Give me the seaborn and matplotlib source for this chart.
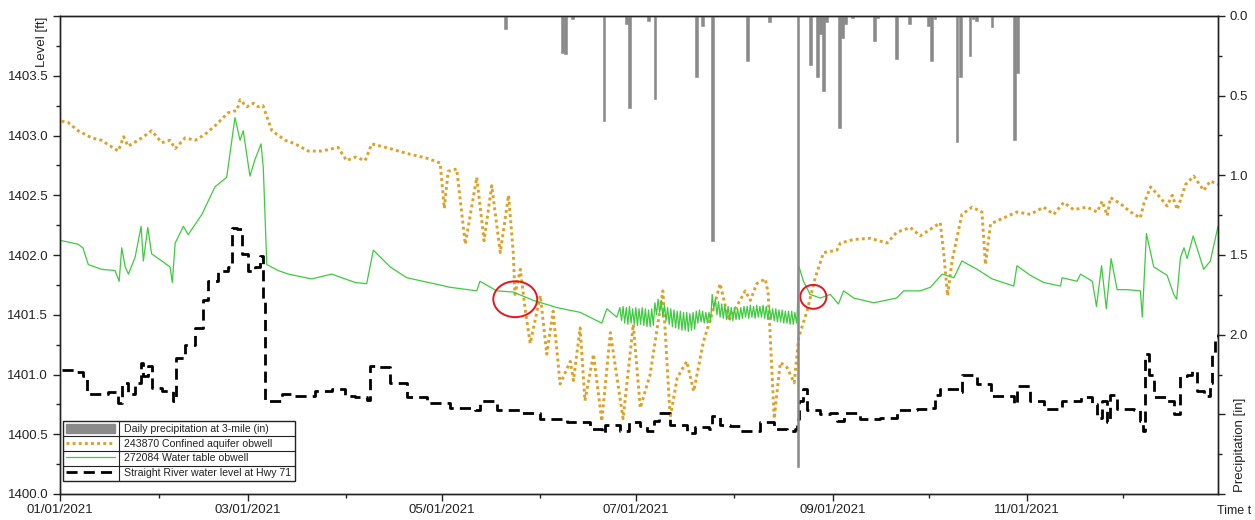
import numpy as np
import pandas as pd
import matplotlib
matplotlib.use("Agg")
import matplotlib.pyplot as plt
import matplotlib.dates as mdates
from matplotlib.patches import Patch, Ellipse
from matplotlib.lines import Line2D
from matplotlib.ticker import MultipleLocator, FuncFormatter
import seaborn as sns

# ---------------- data (day of year 2021, 0 = Jan 1) ----------------
conf_days = [0.5, 2.5, 5.7, 10, 13, 18.3, 20, 21.4, 25.7, 28.8, 32, 34.6, 36.2, 39.3, 42.5, 45.6, 48.7,
             52.8, 55.6, 56.6, 58.7, 60.8, 62.3, 63.8, 66.6, 70.8, 73.9, 78, 82.3, 87.4, 90.1, 92.8,
             95.9, 98, 103.8, 109, 115.3, 119.5, 120.8, 122, 124.7, 127.4, 131, 133.3, 135.7, 138.4,
             141, 142.5, 143, 144.7, 146.2, 147.8, 151, 153, 155, 157.2, 160.4, 161.4, 163.5, 165,
             167.7, 170.3, 173, 177, 180.2, 182.4, 185.5, 189.5, 191.8, 194, 197, 199.2, 202.3, 205,
             207.5, 210.2, 215.4, 217, 219, 221.7, 222.6, 224.5, 226.4, 228.5, 230.8, 232.2, 234.8,
             237.4, 240, 244.2, 245.3, 249.5, 254.7, 260, 263, 267.3, 270.4, 276.7, 277.8, 279, 280.4,
             283.5, 286.7, 289.8, 290.9, 292.5, 296.6, 300.8, 305, 309.2, 312.4, 315.5, 318.6, 322.8,
             326, 327.6, 329.2, 330.2, 333.3, 336.5, 339.6, 340.7, 342.8, 344.9, 348, 349.6, 351.2,
             353.8, 356.4, 359.5, 361.6, 364]
conf_level = [1403.12, 1403.11, 1403.04, 1402.98, 1402.96, 1402.87, 1402.99, 1402.91, 1402.98, 1403.04,
              1402.94, 1402.96, 1402.89, 1402.98, 1402.96, 1403.01, 1403.08, 1403.19, 1403.21, 1403.30,
              1403.24, 1403.27, 1403.24, 1403.25, 1403.04, 1402.96, 1402.93, 1402.87, 1402.87, 1402.90,
              1402.79, 1402.82, 1402.79, 1402.93, 1402.89, 1402.85, 1402.81, 1402.77, 1402.39, 1402.70,
              1402.72, 1402.09, 1402.65, 1402.12, 1402.58, 1402.02, 1402.50, 1402.01, 1401.67, 1401.88,
              1401.55, 1401.26, 1401.66, 1401.17, 1401.53, 1400.92, 1401.11, 1400.95, 1401.39, 1400.78,
              1401.17, 1400.61, 1401.35, 1400.63, 1401.42, 1400.72, 1401.00, 1401.70, 1400.64, 1400.97,
              1401.11, 1400.86, 1401.28, 1401.51, 1401.76, 1401.45, 1401.70, 1401.62, 1401.76, 1401.80,
              1401.68, 1400.63, 1401.10, 1401.06, 1400.93, 1401.31, 1401.53, 1401.81, 1402.02, 1402.04,
              1402.10, 1402.13, 1402.14, 1402.10, 1402.19, 1402.23, 1402.16, 1402.27, 1402.01, 1401.66,
              1401.95, 1402.34, 1402.40, 1402.36, 1401.92, 1402.26, 1402.31, 1402.36, 1402.34, 1402.40,
              1402.34, 1402.44, 1402.38, 1402.40, 1402.36, 1402.45, 1402.33, 1402.48, 1402.43, 1402.36,
              1402.31, 1402.43, 1402.57, 1402.51, 1402.41, 1402.50, 1402.38, 1402.59, 1402.66, 1402.54,
              1402.62, 1402.59]

wt_days = [0.5, 5.7, 7.2, 8.9, 13.1, 17.3, 18.6, 19.4, 20.5, 21.5, 23.6, 25.5, 26.2, 27.6, 28.8, 32,
           34.6, 35.3, 36.2, 38.8, 40.3, 44.6, 48.7, 52.4, 55, 56.6, 57.6, 59.7, 61.3, 63.2, 63.9, 65,
           68.6, 71.8, 79.1, 85.4, 88.6, 92.8, 96.4, 98.5, 103.8, 109, 115.8, 122.6, 131, 132, 137.3,
           142.5, 148.8, 156.2, 163.5, 170.3, 171.9, 175,
           231.7, 232.2, 233.7, 235.8, 239, 242.1, 244.7, 246.3, 249.5, 255.8, 263, 265.2, 270.4,
           273.6, 277.3, 281, 283.5, 288.3, 293, 299.8, 300.8, 305, 309.2, 314.5, 315, 319.7, 320.8,
           324.5, 325.8, 327.4, 328.9, 330.4, 332.3, 335.5, 339.6, 340.2, 341.5, 343.8, 348, 350.1,
           351, 352.2, 353.3, 354.3, 356.2, 359.5, 361.6, 364]
wt_level = [1402.12, 1402.09, 1402.06, 1401.92, 1401.88, 1401.87, 1401.78, 1402.06, 1401.90, 1401.84,
            1401.98, 1402.24, 1401.95, 1402.23, 1402.01, 1401.95, 1401.90, 1401.77, 1402.10, 1402.24,
            1402.17, 1402.34, 1402.57, 1402.65, 1403.15, 1402.96, 1403.04, 1402.66, 1402.80, 1402.93,
            1402.73, 1401.92, 1401.87, 1401.84, 1401.80, 1401.84, 1401.81, 1401.77, 1401.76, 1402.04,
            1401.90, 1401.81, 1401.77, 1401.73, 1401.70, 1401.78, 1401.70, 1401.69, 1401.62, 1401.56,
            1401.52, 1401.43, 1401.55, 1401.48,
            1401.48, 1401.91, 1401.78, 1401.67, 1401.64, 1401.67, 1401.59, 1401.70, 1401.64, 1401.60,
            1401.64, 1401.70, 1401.70, 1401.73, 1401.84, 1401.81, 1401.95, 1401.88, 1401.80, 1401.74,
            1401.91, 1401.83, 1401.77, 1401.74, 1401.81, 1401.78, 1401.84, 1401.78, 1401.57, 1401.91,
            1401.55, 1401.97, 1401.71, 1401.71, 1401.70, 1401.48, 1402.18, 1401.90, 1401.83, 1401.67,
            1401.63, 1401.98, 1402.06, 1401.97, 1402.16, 1401.88, 1401.95, 1402.24]

# summer diurnal swings of the water-table well: daily high (morning) and low (afternoon)
wt_summer_day = list(range(176, 232))
wt_summer_high = [1401.56, 1401.57, 1401.56, 1401.57, 1401.55, 1401.56, 1401.55, 1401.56, 1401.55, 1401.54,
                  1401.55, 1401.60, 1401.63, 1401.62, 1401.58, 1401.56, 1401.55, 1401.54, 1401.53, 1401.53,
                  1401.52, 1401.52, 1401.51, 1401.52, 1401.53, 1401.54, 1401.53, 1401.52, 1401.52, 1401.67,
                  1401.63, 1401.61, 1401.59, 1401.58, 1401.57, 1401.56, 1401.56, 1401.55, 1401.56, 1401.57,
                  1401.57, 1401.58, 1401.57, 1401.58, 1401.57, 1401.58, 1401.57, 1401.56, 1401.55, 1401.55,
                  1401.54, 1401.54, 1401.53, 1401.53, 1401.53, 1401.52]
wt_summer_low = [1401.45, 1401.43, 1401.42, 1401.43, 1401.42, 1401.41, 1401.42, 1401.41, 1401.40, 1401.40,
                 1401.41, 1401.50, 1401.52, 1401.48, 1401.45, 1401.42, 1401.40, 1401.39, 1401.38, 1401.37,
                 1401.37, 1401.36, 1401.37, 1401.38, 1401.43, 1401.44, 1401.43, 1401.43, 1401.44, 1401.55,
                 1401.50, 1401.48, 1401.47, 1401.46, 1401.46, 1401.45, 1401.46, 1401.46, 1401.47, 1401.48,
                 1401.47, 1401.48, 1401.47, 1401.48, 1401.48, 1401.47, 1401.46, 1401.46, 1401.45, 1401.44,
                 1401.44, 1401.43, 1401.43, 1401.42, 1401.42, 1401.43]

river_days = [0.5, 4.7, 7.3, 8.4, 12, 15.2, 18.3, 19.4, 21.5, 23.6, 25.5, 26.2, 27.8, 28.8, 32, 35.6,
              36.4, 39.3, 42.5, 45, 46.6, 49.8, 52.9, 54, 55.6, 57.1, 59.2, 61.3, 62.9, 63.9, 64.5,
              69.7, 73.9, 80.2, 85.4, 89.6, 92.8, 96.4, 97.3, 99.6, 103.8, 109, 115.3, 122.6, 130.5,
              132, 137.3, 144.7, 151, 159.3, 166.7, 170.3, 171.4, 176.1, 178.7, 182.4, 184.5, 186.6,
              188.2, 191.8, 197.1, 199.7, 203.9, 205, 207.5, 210.7, 213.8, 220.1, 224.3, 228.5, 231.1,
              231.7, 232.2, 233.7, 234.8, 239, 242.1, 244.2, 246.3, 251.6, 257.9, 263, 269.4, 272.5,
              275.2, 276.7, 282.5, 283.5, 288.3, 292.5, 299.8, 300.8, 305, 309.2, 315, 320.8, 324.5,
              326, 327.6, 329.2, 330.2, 332.3, 337.5, 339.6, 340.5, 341, 342.2, 343.8, 348, 350.1,
              352.2, 354.3, 355.9, 357.5, 359.5, 361.6, 362.2, 363.2, 364]
river_level = [1401.04, 1401.02, 1400.99, 1400.84, 1400.84, 1400.85, 1400.76, 1400.93, 1400.84, 1400.93,
               1401.10, 1400.99, 1401.07, 1400.89, 1400.86, 1400.78, 1401.14, 1401.25, 1401.39, 1401.62,
               1401.78, 1401.87, 1401.90, 1402.23, 1402.22, 1402.01, 1401.87, 1401.90, 1401.99, 1401.63,
               1400.78, 1400.84, 1400.82, 1400.86, 1400.88, 1400.82, 1400.81, 1400.79, 1401.07, 1401.06,
               1400.93, 1400.81, 1400.76, 1400.72, 1400.70, 1400.78, 1400.70, 1400.68, 1400.63, 1400.60,
               1400.54, 1400.51, 1400.58, 1400.53, 1400.60, 1400.57, 1400.53, 1400.61, 1400.68, 1400.58,
               1400.51, 1400.56, 1400.54, 1400.65, 1400.58, 1400.57, 1400.53, 1400.60, 1400.54, 1400.53,
               1400.54, 1400.63, 1400.78, 1400.88, 1400.70, 1400.67, 1400.68, 1400.61, 1400.68, 1400.63,
               1400.64, 1400.70, 1400.71, 1400.72, 1400.83, 1400.88, 1400.85, 1401.00, 1400.92, 1400.82,
               1400.75, 1400.90, 1400.78, 1400.71, 1400.78, 1400.81, 1400.75, 1400.64, 1400.78, 1400.60,
               1400.83, 1400.71, 1400.70, 1400.61, 1400.53, 1401.17, 1401.00, 1400.81, 1400.78, 1400.67,
               1400.99, 1401.00, 1401.03, 1400.86, 1400.82, 1400.93, 1401.17, 1401.31, 1401.34]

precip_days = [140, 158, 159, 161, 171, 178, 179, 185, 187, 200, 202, 205, 216, 223, 232, 236, 238, 239,
               240, 241, 245, 246, 247, 249, 256, 257, 263, 267, 273, 274, 275, 282, 283, 286, 287, 288,
               293, 300, 301]
precip_in = [0.08, 0.23, 0.24, 0.02, 0.66, 0.05, 0.58, 0.03, 0.52, 0.38, 0.06, 1.41, 0.28, 0.04, 2.83,
             0.31, 0.38, 0.11, 0.47, 0.04, 0.70, 0.14, 0.05, 0.01, 0.16, 0.01, 0.27, 0.05, 0.06, 0.28,
             0.02, 0.79, 0.38, 0.25, 0.02, 0.03, 0.07, 0.78, 0.36]

labels = ["Daily precipitation at 3-mile (in)",
          "243870 Confined aquifer obwell",
          "272084 Water table obwell",
          "Straight River water level at Hwy 71"]

# hand-drawn red circles (centre day, centre level, width days, height ft)
circle_day = [143.1, 236.8]
circle_level = [1401.63, 1401.65]
circle_w = [13.8, 8.2]
circle_h = [0.30, 0.20]

# ---------------- build frames ----------------
START = pd.Timestamp("2021-01-01")


def to_dates(days):
    return START + pd.to_timedelta(np.asarray(days, dtype=float), unit="D")


wt_all_days = list(wt_days)
wt_all_level = list(wt_level)
for d, hi, lo in zip(wt_summer_day, wt_summer_high, wt_summer_low):
    wt_all_days += [d, d + 0.5]
    wt_all_level += [hi, lo]
order = np.argsort(wt_all_days)
wt_df = pd.DataFrame({"date": to_dates(np.array(wt_all_days)[order]),
                      "level": np.array(wt_all_level)[order]})
conf_df = pd.DataFrame({"date": to_dates(conf_days), "level": conf_level})
river_df = pd.DataFrame({"date": to_dates(river_days), "level": river_level})
precip_df = pd.DataFrame({"date": to_dates(precip_days), "p": precip_in})

# ---------------- figure ----------------
sns.set_style("ticks")
plt.rcParams["font.family"] = ["Liberation Sans", "DejaVu Sans"]
plt.rcParams["axes.linewidth"] = 1.0

W, H = 1255, 520
fig = plt.figure(figsize=(W / 100, H / 100), dpi=100)
L, R, T, B = 60, 1218, 16, 494
ax = fig.add_axes([L / W, 1 - B / H, (R - L) / W, (B - T) / H])

C_CONF = "#DDA128"
C_WT = "#3DCC3D"
C_RIV = "black"
C_PREC = "#8A8A8A"

sns.lineplot(data=conf_df, x="date", y="level", ax=ax, color=C_CONF, lw=2.1,
             linestyle=(0, (1, 1.1)), estimator=None, sort=False)
sns.lineplot(data=wt_df, x="date", y="level", ax=ax, color=C_WT, lw=0.9,
             estimator=None, sort=False)
sns.lineplot(data=river_df, x="date", y="level", ax=ax, color=C_RIV, lw=2.0,
             linestyle=(0, (4, 2.2)), drawstyle="steps-post", estimator=None, sort=False)

for cd, cl, cw, ch in zip(circle_day, circle_level, circle_w, circle_h):
    ax.add_patch(Ellipse((mdates.date2num(START + pd.Timedelta(days=cd)), cl), cw, ch,
                         fill=False, edgecolor="#E8141E", lw=1.4, zorder=5))

ax.set_xlim(START, pd.Timestamp("2021-12-31"))
ax.set_ylim(1400.0, 1404.0)
ax.set_xlabel("")
ax.set_ylabel("")
ax.xaxis.set_major_locator(mdates.MonthLocator(bymonth=[1, 3, 5, 7, 9, 11]))
ax.xaxis.set_major_formatter(mdates.DateFormatter("%m/%d/%Y"))
ax.xaxis.set_minor_locator(mdates.MonthLocator())
ax.yaxis.set_major_locator(MultipleLocator(0.5))
ax.yaxis.set_minor_locator(MultipleLocator(0.25))
ax.yaxis.set_major_formatter(FuncFormatter(lambda v, p: "" if v > 1403.9 else f"{v:.1f}"))
ax.tick_params(axis="both", which="major", direction="out", length=5, width=1,
               labelsize=9.5, colors="#222222", labelcolor="#222222")
ax.tick_params(axis="both", which="minor", direction="out", length=3, width=1, colors="#222222")
ax.tick_params(axis="x", which="major", pad=2)

ax2 = ax.twinx()
ax2.bar(precip_df["date"], precip_df["p"], width=0.85, color=C_PREC, edgecolor=C_PREC,
        linewidth=0.4, align="center")
ax2.set_ylim(3.0, 0.0)
ax2.yaxis.set_major_locator(MultipleLocator(0.5))
ax2.yaxis.set_minor_locator(MultipleLocator(0.25))
ax2.yaxis.set_major_formatter(FuncFormatter(lambda v, p: f"{v:.1f}" if v <= 2.01 else ""))
ax2.tick_params(axis="y", which="major", direction="out", length=5, width=1,
                labelsize=9.5, colors="#222222", labelcolor="#222222")
ax2.tick_params(axis="y", which="minor", direction="out", length=3, width=1, colors="#222222")
ax2.set_ylabel("")
for a in (ax, ax2):
    for s in a.spines.values():
        s.set_color("#222222")
        s.set_linewidth(1.0)

fig.text(42 / W, 1 - 17 / H, "Level [ft]", rotation=90, ha="center", va="top",
         fontsize=9.5, color="#222222")
fig.text(1240 / W, 1 - 492 / H, "Precipitation [in]", rotation=90, ha="center", va="bottom",
         fontsize=9.5, color="#222222")
fig.text(1251 / W, 1 - 511 / H, "Time t", ha="right", va="center", fontsize=9, color="#222222")

handles = [Patch(facecolor=C_PREC, edgecolor=C_PREC),
           Line2D([], [], color=C_CONF, lw=2.1, linestyle=(0, (1, 1.1))),
           Line2D([], [], color=C_WT, lw=0.9),
           Line2D([], [], color=C_RIV, lw=2.0, linestyle=(0, (4, 2.2)))]
leg = ax2.legend(handles, labels, loc="lower left",
                 bbox_to_anchor=((63 - L) / (R - L), (B - 481) / (B - T)),
                 borderaxespad=0, fontsize=7.6, frameon=True, fancybox=False,
                 edgecolor="#222222", framealpha=1, handlelength=4.6, handleheight=0.9,
                 handletextpad=0.9, labelspacing=0.42, borderpad=0.3)
leg.get_frame().set_linewidth(1.0)
for t in leg.get_texts():
    t.set_color("#222222")

# table-like separators inside the legend
fig.canvas.draw()
bb = leg.get_window_extent().transformed(fig.transFigure.inverted())
tb = leg.get_texts()[0].get_window_extent().transformed(fig.transFigure.inverted())
xsep = tb.x0 - 0.004
fig.add_artist(Line2D([xsep, xsep], [bb.y0, bb.y1], color="#222222", lw=0.8,
                      transform=fig.transFigure))
for k in range(1, 4):
    ysep = bb.y0 + (bb.y1 - bb.y0) * k / 4
    fig.add_artist(Line2D([bb.x0, bb.x1], [ysep, ysep], color="#222222", lw=0.8,
                          transform=fig.transFigure))

fig.savefig("out.png", dpi=100)
